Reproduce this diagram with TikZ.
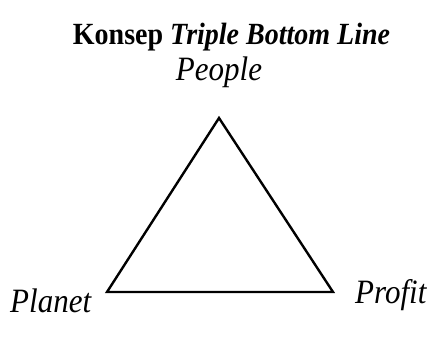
\documentclass[tikz,border=0pt]{standalone}
\usepackage{fontspec}
\setmainfont{Liberation Serif}
\begin{document}
\begin{tikzpicture}[x=1pt,y=1pt,
  titletext/.style={inner sep=0pt, yscale=1.1, transform shape, font=\fontsize{28}{30}\selectfont\bfseries},
  labeltext/.style={inner sep=0pt, yscale=1.1, transform shape, font=\fontsize{31}{34}\selectfont\itshape},
  edge/.style={draw=black, line width=2.4pt, line join=miter}]
\useasboundingbox (0,0) rectangle (435,338);
\coordinate (A) at (219,220);
\coordinate (B) at (107,46);
\coordinate (C) at (333,46);
\draw[edge] (A) -- (B) -- (C) -- cycle;
\node[titletext, anchor=base] (title) at (231.5,293) {Konsep \textit{Triple Bottom Line}};
\node[labeltext, anchor=base] (people) at (219,258) {People};
\node[labeltext, anchor=base west] (planet) at (10,26) {Planet};
\node[labeltext, anchor=base west] (profit) at (355,35) {Profit};
\end{tikzpicture}
\end{document}
